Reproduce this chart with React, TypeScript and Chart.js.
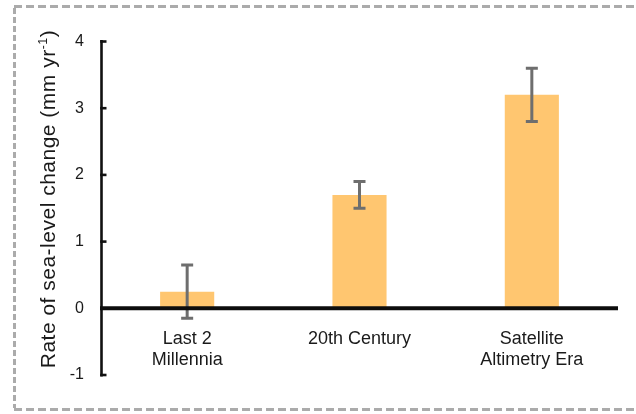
import React, { useEffect, useRef } from "react";
import { Chart, registerables } from "chart.js";

Chart.register(...registerables);

// ---- data ----
const categories: string[][] = [["Last 2", "Millennia"], ["20th Century"], ["Satellite", "Altimetry Era"]];
const rates: number[] = [0.25, 1.7, 3.2];
const uncertainties: number[] = [0.4, 0.2, 0.4];
const yMin = -1;
const yMax = 4;
const yStep = 1;
const yTitleMain = "Rate of sea-level change (mm yr";
const yTitleSup = "-1";
const yTitleEnd = ")";

const FONT = '"Liberation Sans", Arial, Helvetica, sans-serif';
const BAR_COLOR = "#FFC670";
const ERR_COLOR = "#6e6e6e";
const TEXT_COLOR = "#1a1a1a";

const decorPlugin = {
  id: "decor",
  beforeDraw(chart: any) {
    const ctx = chart.ctx as CanvasRenderingContext2D;
    ctx.save();
    ctx.strokeStyle = "#ababab";
    ctx.lineWidth = 3;
    ctx.setLineDash([8, 4]);
    ctx.beginPath();
    ctx.moveTo(14, 6.5);
    ctx.lineTo(636, 6.5);
    ctx.moveTo(14, 409.5);
    ctx.lineTo(636, 409.5);
    ctx.stroke();
    ctx.setLineDash([6, 3]);
    ctx.beginPath();
    ctx.moveTo(14.5, 8);
    ctx.lineTo(14.5, 408);
    ctx.stroke();
    ctx.restore();
  },
  afterDatasetsDraw(chart: any) {
    const ctx = chart.ctx as CanvasRenderingContext2D;
    const y = chart.scales.y;
    const meta = chart.getDatasetMeta(0);
    ctx.save();
    ctx.strokeStyle = ERR_COLOR;
    ctx.lineWidth = 3;
    ctx.lineCap = "butt";
    rates.forEach((v, i) => {
      const bar = meta.data[i];
      if (!bar) return;
      const x = bar.x;
      const yt = y.getPixelForValue(v + uncertainties[i]);
      const yb = y.getPixelForValue(v - uncertainties[i]);
      ctx.beginPath();
      ctx.moveTo(x, yt);
      ctx.lineTo(x, yb);
      ctx.moveTo(x - 6, yt);
      ctx.lineTo(x + 6, yt);
      ctx.moveTo(x - 6, yb);
      ctx.lineTo(x + 6, yb);
      ctx.stroke();
    });
    ctx.restore();
  },
  afterDraw(chart: any) {
    const ctx = chart.ctx as CanvasRenderingContext2D;
    const y = chart.scales.y;
    const xs = chart.scales.x;
    const area = chart.chartArea;
    ctx.save();
    // y axis line with inward ticks
    ctx.strokeStyle = "#111";
    ctx.lineWidth = 2.6;
    const ax = area.left + 0.5;
    ctx.beginPath();
    ctx.moveTo(ax, y.getPixelForValue(yMax) - 1.5);
    ctx.lineTo(ax, y.getPixelForValue(yMin) + 1.5);
    ctx.stroke();
    for (let v = yMin; v <= yMax; v += yStep) {
      const py = y.getPixelForValue(v);
      ctx.beginPath();
      ctx.moveTo(ax - 1.3, py);
      ctx.lineTo(ax + 5, py);
      ctx.stroke();
    }
    // zero line
    ctx.lineWidth = 4;
    ctx.strokeStyle = "#0d0d0d";
    const y0 = y.getPixelForValue(0);
    ctx.beginPath();
    ctx.moveTo(area.left - 1, y0);
    ctx.lineTo(area.right, y0);
    ctx.stroke();

    // category labels below zero line
    ctx.fillStyle = TEXT_COLOR;
    ctx.font = `18px ${FONT}`;
    ctx.textAlign = "center";
    ctx.textBaseline = "alphabetic";
    categories.forEach((lines, i) => {
      const px = xs.getPixelForValue(i);
      lines.forEach((ln, j) => {
        ctx.fillText(ln, px, y0 + 35.5 + j * 21.5);
      });
    });

    // y title with superscript
    (ctx as any).letterSpacing = "0.5px";
    const mainFont = `21px ${FONT}`;
    const supFont = `12.5px ${FONT}`;
    ctx.font = mainFont;
    const w1 = ctx.measureText(yTitleMain).width;
    const w3 = ctx.measureText(yTitleEnd).width;
    ctx.font = supFont;
    const w2 = ctx.measureText(yTitleSup).width;
    const total = w1 + w2 + w3;
    ctx.translate(47.5, 199);
    ctx.rotate(-Math.PI / 2);
    ctx.textAlign = "left";
    ctx.textBaseline = "alphabetic";
    const base = 7.5;
    let cx = -total / 2;
    ctx.font = mainFont;
    ctx.fillText(yTitleMain, cx, base);
    cx += w1;
    ctx.font = supFont;
    ctx.fillText(yTitleSup, cx, base - 8.5);
    cx += w2;
    ctx.font = mainFont;
    ctx.fillText(yTitleEnd, cx, base);
    ctx.restore();
  },
};

export default function App() {
  const ref = useRef<HTMLCanvasElement | null>(null);
  useEffect(() => {
    if (!ref.current) return;
    const chart = new Chart(ref.current, {
      type: "bar",
      data: {
        labels: categories,
        datasets: [
          {
            data: rates,
            backgroundColor: BAR_COLOR,
            borderWidth: 0,
            categoryPercentage: 1,
            barPercentage: 0.314,
          },
        ],
      },
      options: {
        responsive: false,
        animation: false,
        events: [],
        layout: { padding: { top: 41.5, bottom: 39, left: 0, right: 18 } },
        plugins: { legend: { display: false }, tooltip: { enabled: false }, title: { display: false } },
        scales: {
          x: { display: false, offset: true },
          y: {
            min: yMin,
            max: yMax,
            ticks: {
              stepSize: yStep,
              padding: 17,
              color: TEXT_COLOR,
              font: { family: FONT, size: 16 },
            },
            grid: { display: false, drawTicks: false },
            border: { display: false },
            afterFit: (s: any) => {
              s.width = 101;
            },
          },
        },
      },
      plugins: [decorPlugin],
    });
    return () => chart.destroy();
  }, []);
  return (
    <div style={{ position: "absolute", left: 0, top: 0, width: 636, height: 414, background: "#fff" }}>
      <canvas ref={ref} width={636} height={414} style={{ display: "block" }} />
    </div>
  );
}
